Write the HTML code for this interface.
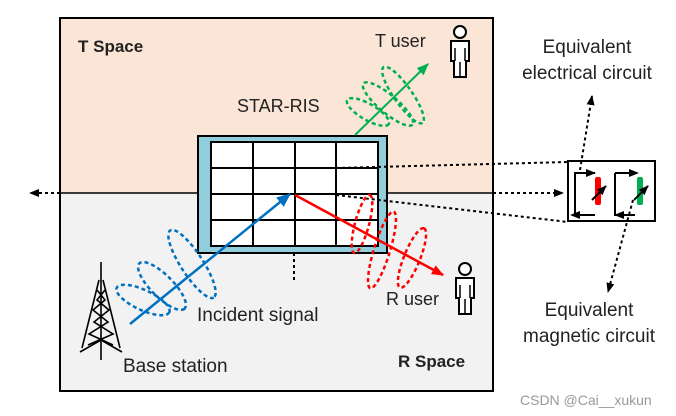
<!DOCTYPE html>
<html><head><meta charset="utf-8"><style>
body{margin:0;background:#fff}
svg{display:block}
text{font-family:"Liberation Sans",sans-serif;fill:#222}
</style></head><body>
<svg width="676" height="416" viewBox="0 0 676 416" xmlns="http://www.w3.org/2000/svg">
<defs>
<marker id="ar" markerWidth="12" markerHeight="10" refX="11" refY="5" orient="auto" markerUnits="userSpaceOnUse"><path d="M0,0L12,5L0,10z" fill="#f00"/></marker>
<marker id="ag" markerWidth="12" markerHeight="10" refX="11" refY="5" orient="auto" markerUnits="userSpaceOnUse"><path d="M0,0L12,5L0,10z" fill="#00b050"/></marker>
<marker id="ak" markerWidth="10" markerHeight="8" refX="9" refY="4" orient="auto" markerUnits="userSpaceOnUse"><path d="M0,0L10,4L0,8z" fill="#000"/></marker>
<marker id="ablue" markerWidth="14" markerHeight="12" refX="13" refY="6" orient="auto" markerUnits="userSpaceOnUse"><path d="M0,0L14,6L0,12z" fill="#0070c0"/></marker>
</defs>
<rect x="60" y="18" width="433" height="175" fill="#fbe5d6"/>
<rect x="60" y="193" width="433" height="198" fill="#f2f2f2"/>
<rect x="60" y="18" width="433" height="373" fill="none" stroke="#000" stroke-width="2"/>
<line x1="60" y1="193" x2="493" y2="193" stroke="#000" stroke-width="1.5"/>
<line x1="60" y1="193" x2="30" y2="193" stroke="#000" stroke-width="2" stroke-dasharray="3,3" marker-end="url(#ak)"/>
<line x1="493" y1="193" x2="563" y2="193" stroke="#000" stroke-width="2" stroke-dasharray="3,3" marker-end="url(#ak)"/>
<rect x="198" y="136" width="189" height="117" fill="#92cddc" stroke="#000" stroke-width="2"/>
<rect x="211" y="142" width="167" height="104" fill="#fff" stroke="#000" stroke-width="2"/>
<g stroke="#000" stroke-width="2">
<line x1="253" y1="142" x2="253" y2="246"/><line x1="295" y1="142" x2="295" y2="246"/><line x1="336" y1="142" x2="336" y2="246"/>
<line x1="211" y1="168" x2="378" y2="168"/><line x1="211" y1="194" x2="378" y2="194"/><line x1="211" y1="220" x2="378" y2="220"/>
</g>
<line x1="294" y1="253" x2="294" y2="280" stroke="#000" stroke-width="2" stroke-dasharray="3,3"/>
<line x1="336" y1="168" x2="568" y2="162" stroke="#000" stroke-width="2" stroke-dasharray="3,3"/>
<line x1="336" y1="195" x2="568" y2="222" stroke="#000" stroke-width="2" stroke-dasharray="3,3"/>
<g fill="none" stroke="#0070c0" stroke-width="2.5" stroke-dasharray="4,3">
<ellipse cx="143" cy="300" rx="29" ry="10" transform="rotate(25 143 300)"/>
<ellipse cx="162" cy="286" rx="32" ry="11" transform="rotate(45 162 286)"/>
<ellipse cx="192" cy="264" rx="40" ry="11" transform="rotate(57 192 264)"/>
</g>
<g fill="none" stroke="#f00" stroke-width="2.5" stroke-dasharray="4,3">
<ellipse cx="362" cy="224" rx="30" ry="7" transform="rotate(-75 362 224)"/>
<ellipse cx="382" cy="250" rx="40" ry="8" transform="rotate(-73 382 250)"/>
<ellipse cx="412" cy="258" rx="32" ry="8" transform="rotate(-68 412 258)"/>
</g>
<g fill="none" stroke="#00b050" stroke-width="2.5" stroke-dasharray="4,3">
<ellipse cx="368" cy="112" rx="24" ry="8" transform="rotate(30 368 112)"/>
<ellipse cx="388" cy="104" rx="32" ry="9" transform="rotate(40 388 104)"/>
<ellipse cx="403" cy="95" rx="34" ry="9" transform="rotate(55 403 95)"/>
</g>
<line x1="130" y1="324" x2="290" y2="194" stroke="#0070c0" stroke-width="2.5" marker-end="url(#ablue)"/>
<line x1="295" y1="195" x2="443" y2="275" stroke="#f00" stroke-width="2.5" marker-end="url(#ar)"/>
<line x1="355" y1="135" x2="428" y2="64" stroke="#00b050" stroke-width="2" marker-end="url(#ag)"/>
<g stroke="#000" stroke-width="1.6" fill="none">
<line x1="101" y1="262" x2="101" y2="360"/>
<path d="M99,280 L82,348 M103,280 L120,348 M80,352 L101,340 L122,352"/>
<path d="M97,290 L105,300 L93,310 L108,322 L89,334 L113,345 M105,290 L97,300 L109,310 L94,322 L113,334 L88,345"/>
</g>
<g fill="#fff" stroke="#000" stroke-width="2">
<circle cx="460" cy="32" r="6"/>
<path d="M451,41 h18 v20 h-3 v16 h-12 v-16 h-3 z"/>
<circle cx="465" cy="269" r="6"/>
<path d="M456,278 h18 v20 h-3 v16 h-12 v-16 h-3 z"/>
</g>
<g stroke="#000" stroke-width="1.5"><line x1="455" y1="48" x2="455" y2="61"/><line x1="465" y1="48" x2="465" y2="61"/><line x1="460" y1="62" x2="460" y2="77"/>
<line x1="460" y1="285" x2="460" y2="298"/><line x1="470" y1="285" x2="470" y2="298"/><line x1="465" y1="299" x2="465" y2="314"/></g>
<rect x="568" y="161" width="87" height="60" fill="#fff" stroke="#000" stroke-width="2"/>
<g stroke="#000" stroke-width="2" fill="none">
<path d="M595,173 h-20 v42 h20"/><path d="M615,173 h20 M615,173 v42 h20"/>
</g>
<path d="M586,169L596,173L586,177z M580,211L570,215L580,219z" fill="#000"/>
<path d="M629,169L639,173L629,177z M624,211L614,215L624,219z" fill="#000"/>
<rect x="595" y="177" width="6" height="28" rx="2" fill="#f00"/>
<rect x="637" y="177" width="6" height="28" rx="2" fill="#00b050"/>
<line x1="592" y1="200" x2="606" y2="186" stroke="#000" stroke-width="2" marker-end="url(#ak)"/>
<line x1="634" y1="200" x2="648" y2="186" stroke="#000" stroke-width="2" marker-end="url(#ak)"/>
<line x1="580" y1="170" x2="592" y2="96" stroke="#000" stroke-width="2" stroke-dasharray="3,3" marker-end="url(#ak)"/>
<line x1="633" y1="200" x2="608" y2="292" stroke="#000" stroke-width="2" stroke-dasharray="3,3" marker-end="url(#ak)"/>
<text x="78" y="52" font-size="17" font-weight="bold">T Space</text>
<text x="398" y="367" font-size="17" font-weight="bold">R Space</text>
<text x="237" y="112" font-size="18">STAR-RIS</text>
<text x="375" y="47" font-size="18">T user</text>
<text x="386" y="305" font-size="18">R user</text>
<text x="197" y="321" font-size="19">Incident signal</text>
<text x="123" y="372" font-size="19">Base station</text>
<text x="587" y="53" font-size="19" text-anchor="middle">Equivalent</text>
<text x="587" y="79" font-size="19" text-anchor="middle">electrical circuit</text>
<text x="589" y="316" font-size="19" text-anchor="middle">Equivalent</text>
<text x="589" y="342" font-size="19" text-anchor="middle">magnetic circuit</text>
<text x="520" y="405" font-size="14" style="fill:#999">CSDN @Cai__xukun</text>
</svg>
</body></html>
